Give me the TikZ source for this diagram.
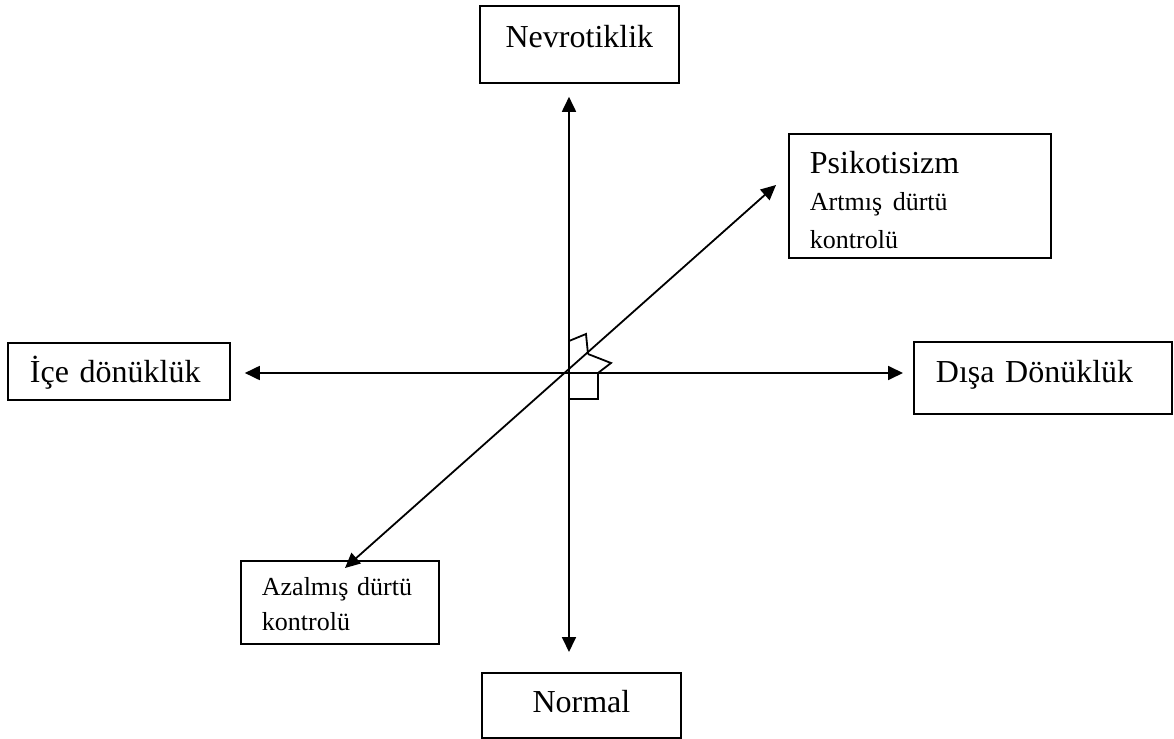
\documentclass[tikz,border=0pt]{standalone}
\usepackage{fontspec}
\setmainfont{Liberation Serif}
\usetikzlibrary{arrows.meta}

\begin{document}
\begin{tikzpicture}[
        x=0.5pt, y=-0.5pt,
        box/.style={rectangle, draw, line width=0.9pt, anchor=north west, inner ysep=0pt, minimum height=0pt, font=\fontsize{16}{19}\selectfont},
        biarrow/.style={{Triangle[length=7.5pt, width=7pt]}-{Triangle[length=7.5pt, width=7pt]}, line width=0.9pt},
        anglemark/.style={line width=0.9pt}
    ]
        \useasboundingbox (0,0) rectangle (1174,739);

        % Boxes
        \node[box, align=center, text width=91.5pt, inner xsep=4pt, text height=21pt, text depth=17.5pt] (nev) at (479,5) {Nevrotiklik};
        \node[box, align=center, text width=91.5pt, inner xsep=4pt, text height=20pt, text depth=12.5pt] (nor) at (481,672) {Normal};
        \node[box, align=left, text width=89pt, inner xsep=11pt, text height=20pt, text depth=8.5pt] (ice) at (7,342) {İçe dönüklük};
        \node[box, align=left, text width=107pt, inner xsep=11pt, text height=20.5pt, text depth=15.5pt] (dis) at (913,341) {Dışa Dönüklük};
        \node[box, align=left, text width=110pt, inner xsep=10.5pt, text height=20pt, text depth=42pt] (psi) at (788,133) {Psikotisizm\\[1pt] \fontsize{13}{17.5}\selectfont Artmış dürtü\\ kontrolü};
        \node[box, align=left, text width=78pt, inner xsep=10.5pt, text height=17.5pt, text depth=24pt, font=\fontsize{13}{17.5}\selectfont] (aza) at (240,560) {Azalmış dürtü\\ kontrolü};

        % Axes
        \coordinate (o) at (569,373);
        \coordinate (psitip) at (776,185);
        \coordinate (azatip) at (345,568);

        \draw[biarrow, shorten <=6.5pt, shorten >=10pt] (o |- nev.south) -- (o |- nor.north);
        \draw[biarrow, shorten <=7pt, shorten >=5pt] (o -| ice.east) -- (o -| dis.west);
        \draw[biarrow] (azatip) -- (psitip);

        % Right angle marks
        \draw[anglemark] (569,399) -- (598,399) -- (598,373);
        \draw[anglemark] (569,341) -- (586,334) -- (588,354);
        \draw[anglemark] (588,354) -- (611,363) -- (598,373);
    \end{tikzpicture}
\end{document}
